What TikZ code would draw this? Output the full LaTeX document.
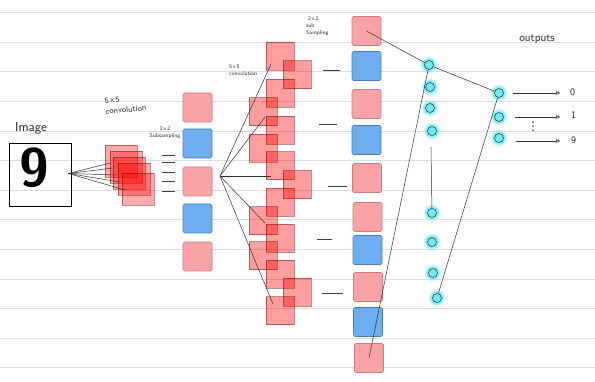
\documentclass[tikz,border=0pt]{standalone}
\usepackage{fontspec}
\newfontfamily\symbolfont{DejaVu Sans}
\usetikzlibrary{arrows.meta,calc}

\definecolor{pinkbox}{RGB}{249,163,167}
\definecolor{pinkline}{RGB}{205,125,130}
\definecolor{bluebox}{RGB}{110,174,240}
\definecolor{blueline}{RGB}{75,125,185}
\definecolor{neuronfill}{RGB}{120,232,238}
\definecolor{neuronline}{RGB}{25,85,95}
\definecolor{ruled}{RGB}{222,222,222}

\tikzset{
  hand/.style={font=\sffamily, text=black!85, inner sep=0pt},
  pool/.style={rectangle, rounded corners=1.5pt, minimum size=29pt, inner sep=0pt, line width=0.6pt},
  poolp/.style={pool, fill=pinkbox, draw=pinkline},
  poolb/.style={pool, fill=bluebox, draw=blueline},
  fmap/.style={rectangle, minimum size=28pt, inner sep=0pt, fill=red, fill opacity=.38,
    draw=red!45!black, draw opacity=.45, line width=0.6pt},
  kernel/.style={fmap, minimum size=32pt, fill opacity=.33},
  neuron/.style={circle, minimum size=9pt, inner sep=0pt, fill=neuronfill, draw=neuronline, line width=0.6pt,
    preaction={draw=neuronfill, line width=8pt, draw opacity=.3},
    preaction={draw=neuronfill, line width=4.5pt, draw opacity=.8}},
  wire/.style={line width=0.5pt, black!80},
  tick/.style={line width=0.6pt, black!75},
}

\begin{document}
\begin{tikzpicture}[x=1pt, y=-1pt]

% paper
\fill[white] (0,0) rectangle (595,382);
\useasboundingbox (0,0) rectangle (595,382);
\foreach \k in {0,...,12}
  \draw[ruled, line width=0.9pt] (0,{12.7+29.6*\k}) -- (595,{12.7+29.6*\k});

% input image
\node[draw, line width=0.9pt, minimum width=62pt, minimum height=63pt, inner sep=0pt] (img) at (40,174.5) {};
\node[inner sep=0pt] (digit) at (34,168) {\fontsize{54}{54}\selectfont\sffamily\bfseries 9};
\node[hand, font=\sffamily\fontsize{13}{14}\selectfont] (limg) at (31,128) {Image};

% first convolution
\node[kernel] (k1) at (121,161) {};
\node[kernel] (k2) at (126,167) {};
\node[kernel] (k3) at (129,173) {};
\node[kernel] (k4) at (134,179) {};
\node[kernel] (k5) at (138,189) {};

\coordinate (imgout) at ($(img.east)+(-3,-1)$);
\coordinate (in1) at (110,163);
\coordinate (in2) at (113,168);
\coordinate (in3) at (116,175);
\coordinate (in4) at (120,182);
\coordinate (in5) at (125,190);
\foreach \i in {1,...,5}
  \draw[wire] (imgout) -- (in\i);

\node[hand, font=\sffamily\fontsize{8}{11}\selectfont, align=left, anchor=west, rotate=5] (lconv1) at (105,106) {5\,x\,5\\convolution};
\node[hand, font=\sffamily\fontsize{5.5}{7}\selectfont, align=center] (lsub1) at (165,133) {2\,x\,2\\Subsampling};

\foreach \y in {155,162,172,181,191}
  \draw[tick] (162,\y) -- (175,\y);

% first subsampling
\node[poolp] (s1) at (197.5,107.5) {};
\node[poolb] (s2) at (197.5,143.5) {};
\node[poolp] (s3) at (197.5,181.5) {};
\node[poolb] (s4) at (197.5,218.5) {};
\node[poolp] (s5) at (197.5,256.5) {};

% second convolution
\node[fmap] (f1) at (280,56.3) {};
\node[fmap] (f2) at (297,74.7) {};
\node[fmap] (f3) at (280,93) {};
\node[fmap] (f4) at (263,111.7) {};
\node[fmap] (f5) at (280,130) {};
\node[fmap] (f6) at (263,148) {};
\node[fmap] (f7) at (280,165.7) {};
\node[fmap] (f8) at (297,184.7) {};
\node[fmap] (f9) at (280,202) {};
\node[fmap] (f10) at (263,220.7) {};
\node[fmap] (f11) at (280,238) {};
\node[fmap] (f12) at (263,255.7) {};
\node[fmap] (f13) at (280,274) {};
\node[fmap] (f14) at (297,292) {};
\node[fmap] (f15) at (280,310.7) {};

\coordinate (fork) at (220,176);
\coordinate (e1) at (271,64);
\coordinate (e2) at (265,117);
\coordinate (e3) at (271,176);
\coordinate (e4) at (265,223);
\coordinate (e5) at (273,304);
\foreach \i in {1,...,5}
  \draw[wire] (fork) -- (e\i);

\node[hand, font=\sffamily\fontsize{5.5}{7}\selectfont, align=left, anchor=west] (lconv2) at (229,70) {5\,x\,5\\convolution};

\draw[tick] (323,70) -- (340,70);
\draw[tick] (319,124) -- (337,124);
\draw[tick] (328,186) -- (347,186);
\draw[tick] (317,239) -- (332,239);
\draw[tick] (322,293) -- (343,293);

% second subsampling
\node[poolp] (p1) at (366.5,31) {};
\node[poolb] (p2) at (366.5,66) {};
\node[poolp] (p3) at (366.5,104) {};
\node[poolb] (p4) at (366.5,140) {};
\node[poolp] (p5) at (367,178) {};
\node[poolp] (p6) at (367.5,217) {};
\node[poolb] (p7) at (367.5,250) {};
\node[poolp] (p8) at (368,287) {};
\node[poolb] (p9) at (368,322) {};
\node[poolp] (p10) at (369,358) {};

\node[hand, font=\sffamily\fontsize{5.5}{6.8}\selectfont, align=left, anchor=west] (lsub2) at (306,26) {\ 2\,x\,2\\sub\\Sampling};

% fully connected
\node[neuron] (c1) at (429,65) {};
\node[neuron] (c2) at (430,87) {};
\node[neuron] (c3) at (430,108) {};
\node[neuron] (c4) at (432,131) {};
\node[neuron] (c5) at (432,213) {};
\node[neuron] (c6) at (432,242) {};
\node[neuron] (c7) at (433,273) {};
\node[neuron] (c8) at (437,298) {};

\node[neuron] (o1) at (499,93) {};
\node[neuron] (o2) at (499,117) {};
\node[neuron] (o3) at (499,138) {};

\coordinate (gap) at (431,147);
\draw[wire] (gap) -- (c5);
\draw[wire] (p1.center) -- (c1) -- (o1);
\draw[wire] (p10.center) -- (c1);
\draw[wire] (o1) -- (c8);

% outputs
\node[hand, font=\sffamily\fontsize{11.5}{12}\selectfont] (lout) at (537,39) {outputs};
\node[hand, anchor=west, inner xsep=10pt, font=\sffamily\fontsize{10}{11}\selectfont] (d0) at (560,92) {0};
\node[hand, anchor=west, inner xsep=11pt, font=\sffamily\fontsize{10}{11}\selectfont] (d1) at (560,115) {1};
\node[hand, anchor=west, inner xsep=11pt, font=\sffamily\fontsize{10}{11}\selectfont] (d9) at (560,140) {9};
\node[hand, font=\symbolfont\fontsize{12}{12}\selectfont] (dots) at (533,127) {⋮};

\coordinate (a1) at ($(o1.east)+(9,0)$);
\coordinate (a2) at ($(o2.east)+(11,0)$);
\coordinate (a3) at ($(o3.east)+(12,3)$);
\draw[wire, -{Triangle[open, length=4pt, width=3.5pt]}] (a1) -- (d0.west |- a1);
\draw[wire, -{Triangle[open, length=4pt, width=3.5pt]}] (a2) -- (d1.west |- a2);
\draw[wire, -{Triangle[open, length=4pt, width=3.5pt]}] (a3) -- (d9.west |- a3);

\end{tikzpicture}
\end{document}
